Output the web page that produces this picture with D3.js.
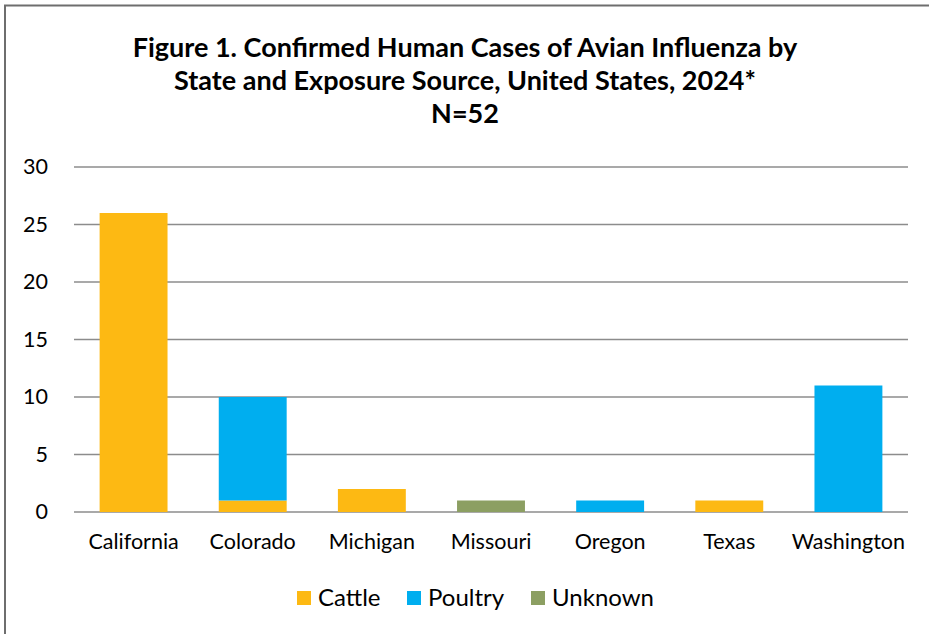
<!DOCTYPE html>
<html>
<head>
<meta charset="utf-8">
<script src="https://cdn.jsdelivr.net/npm/d3@7"></script>
<style>
  body { margin: 0; background: #fff; }
  svg { display: block; font-family: Lato, "Open Sans", sans-serif; }
</style>
</head>
<body>
<div id="chart"></div>
<script>
// chart data
var states = ["California", "Colorado", "Michigan", "Missouri", "Oregon", "Texas", "Washington"];
var sources = ["Cattle", "Poultry", "Unknown"];
var cattle = [26, 1, 2, 0, 0, 1, 0];
var poultry = [0, 9, 0, 0, 1, 0, 11];
var unknown = [0, 0, 0, 1, 0, 0, 0];
var yTicks = [0, 5, 10, 15, 20, 25, 30];
var titleLines = [
  "Figure 1. Confirmed Human Cases of Avian Influenza by",
  "State and Exposure Source, United States, 2024*",
  "N=52"
];

var colors = {
  Cattle: "#FDB913",
  Poultry: "#00AEEF",
  Unknown: "#8C9F62"
};

var svgWidth = 929;
var svgHeight = 634;

var plot = { left: 74, right: 908, top: 167, bottom: 512 };

var svg = d3
  .select("#chart")
  .append("svg")
  .attr("width", svgWidth)
  .attr("height", svgHeight);

// outer frame (right and bottom edges run off the picture)
svg
  .append("rect")
  .attr("x", 5)
  .attr("y", 5.5)
  .attr("width", svgWidth + 10)
  .attr("height", svgHeight + 10)
  .attr("fill", "none")
  .attr("stroke", "#6e6e6e")
  .attr("stroke-width", 2);

// title
svg
  .append("g")
  .selectAll("text")
  .data(titleLines)
  .enter()
  .append("text")
  .attr("x", 465)
  .attr("y", (d, i) => 57 + i * 33)
  .attr("text-anchor", "middle")
  .attr("font-size", 27)
  .attr("font-weight", "bold")
  .attr("fill", "#000")
  .text((d) => d);

// table for stacking
var table = states.map((s, i) => ({
  state: s,
  Cattle: cattle[i],
  Poultry: poultry[i],
  Unknown: unknown[i]
}));

var stacked = d3.stack().keys(sources)(table);

var xScale = d3
  .scaleBand()
  .domain(states)
  .range([plot.left, plot.right])
  .paddingInner(0.43)
  .paddingOuter(0.215);

var yScale = d3
  .scaleLinear()
  .domain([0, 30])
  .range([plot.bottom, plot.top]);

// gridlines
svg
  .append("g")
  .selectAll("line")
  .data(yTicks)
  .enter()
  .append("line")
  .attr("x1", plot.left)
  .attr("x2", plot.right)
  .attr("y1", (d) => yScale(d))
  .attr("y2", (d) => yScale(d))
  .attr("stroke", "#8c8c8c")
  .attr("stroke-width", 1.5);

// y axis labels
var leftAxis = d3.axisLeft(yScale).tickValues(yTicks).tickSize(0).tickPadding(0);
var yAxis = svg
  .append("g")
  .attr("transform", `translate(48, 0)`)
  .call(leftAxis);
yAxis.select(".domain").remove();
yAxis
  .selectAll("text")
  .attr("font-family", "Lato, 'Open Sans', sans-serif")
  .attr("font-size", 21.5)
  .attr("fill", "#000");

// bars
svg
  .append("g")
  .selectAll("g")
  .data(stacked)
  .enter()
  .append("g")
  .attr("fill", (d) => colors[d.key])
  .selectAll("rect")
  .data((d) => d.filter((v) => v[1] > v[0]))
  .enter()
  .append("rect")
  .attr("x", (d) => xScale(d.data.state))
  .attr("y", (d) => yScale(d[1]))
  .attr("width", xScale.bandwidth())
  .attr("height", (d) => yScale(d[0]) - yScale(d[1]));

// x axis labels
var bottomAxis = d3.axisBottom(xScale).tickSize(0).tickPadding(0);
var xAxis = svg
  .append("g")
  .attr("transform", `translate(0, 534)`)
  .call(bottomAxis);
xAxis.select(".domain").remove();
xAxis
  .selectAll("text")
  .attr("font-family", "Lato, 'Open Sans', sans-serif")
  .attr("font-size", 21.5)
  .attr("fill", "#000");

// legend
var legendX = [297, 407, 531];
var legend = svg
  .append("g")
  .selectAll("g")
  .data(sources)
  .enter()
  .append("g")
  .attr("transform", (d, i) => `translate(${legendX[i]}, 591)`);

legend
  .append("rect")
  .attr("width", 14)
  .attr("height", 14)
  .attr("fill", (d) => colors[d]);

legend
  .append("text")
  .attr("x", 21)
  .attr("y", 15)
  .attr("font-size", 24)
  .attr("fill", "#000")
  .text((d) => d);
</script>
</body>
</html>
